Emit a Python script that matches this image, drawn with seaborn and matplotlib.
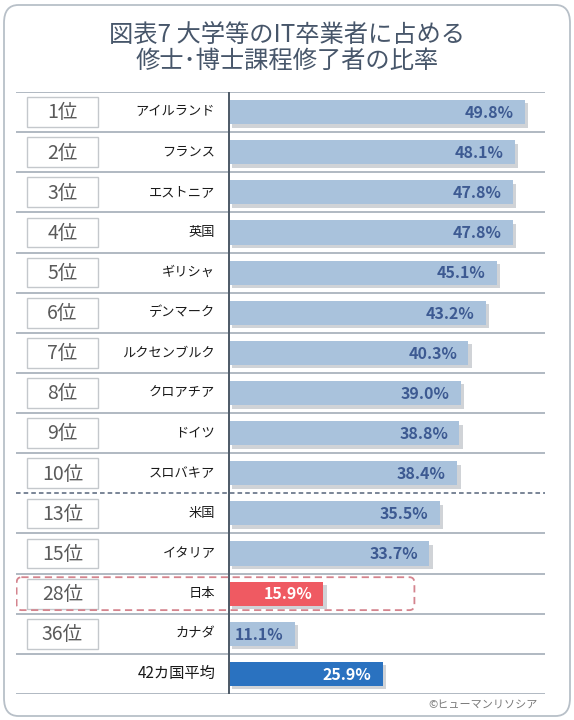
import numpy as np
import pandas as pd
import matplotlib
matplotlib.use("Agg")
import matplotlib.pyplot as plt
import matplotlib.patheffects as pe
from matplotlib.patches import FancyBboxPatch, Rectangle
import seaborn as sns

# --- データ ---
ranks = ["1位", "2位", "3位", "4位", "5位", "6位", "7位", "8位", "9位", "10位",
         "13位", "15位", "28位", "36位", ""]
countries = ["アイルランド", "フランス", "エストニア", "英国", "ギリシャ", "デンマーク",
             "ルクセンブルク", "クロアチア", "ドイツ", "スロバキア",
             "米国", "イタリア", "日本", "カナダ", "42カ国平均"]
values = [49.8, 48.1, 47.8, 47.8, 45.1, 43.2, 40.3, 39.0, 38.8, 38.4,
          35.5, 33.7, 15.9, 11.1, 25.9]

TITLE = "図表7 大学等のIT卒業者に占める\n修士･博士課程修了者の比率"
CREDIT = "©ヒューマンリソシア"

# --- 見た目 ---
sns.set_theme(style="white")
plt.rcParams["font.family"] = ["Noto Sans CJK JP", "DejaVu Sans"]

C_BAR = "#a9c2dc"
C_JP = "#ef5a62"
C_AVG = "#2a72c0"
C_VAL = "#3d5a92"
C_LINE = "#a3adb8"
C_AXIS = "#4d5966"

bar_colors = []
for c in countries:
    if c == "日本":
        bar_colors.append(C_JP)
    elif c == "42カ国平均":
        bar_colors.append(C_AVG)
    else:
        bar_colors.append(C_BAR)

df = pd.DataFrame({"country": countries, "value": values, "rank": ranks})

W, H = 574, 720
fig = plt.figure(figsize=(W / 100, H / 100), dpi=100)

# 外枠（角丸）
frame = FancyBboxPatch((4 / W, 4 / H), 566 / W, 711 / H,
                       boxstyle="round,pad=0,rounding_size=0.025",
                       transform=fig.transFigure, facecolor="white",
                       edgecolor="#b8c0c8", linewidth=1.3, zorder=-10)
fig.patches.append(frame)

fig.text(287 / W, 1 - 48 / H, TITLE, ha="center", va="center",
         fontsize=17.5, color="#47566a", linespacing=1.05)

# 表部分: x=16..545px, 0% at 229px, 5.94px/%
px_per = 5.94
x_left = -(229 - 16) / px_per
x_right = (545 - 229) / px_per
top_px, bot_px = 92, 694
ax = fig.add_axes([16 / W, 1 - bot_px / H, 529 / W, (bot_px - top_px) / H])
ax.set_facecolor("none")
ax.set_zorder(1)

sns.barplot(data=df, x="value", y="country", orient="h", hue="country",
            palette=bar_colors, legend=False, width=0.6, ax=ax,
            saturation=1, zorder=3)

# 影付きの棒
for p in ax.patches:
    p.set_path_effects([pe.SimplePatchShadow(offset=(2.5, -2.5),
                                             shadow_rgbFace="#8a939c", alpha=0.4),
                        pe.Normal()])
    p.set_linewidth(0)

n = len(countries)
ax.set_xlim(x_left, x_right)
ax.set_ylim(n - 0.5, -0.5)
ax.axis("off")

# 行の罫線
for k in range(n + 1):
    yb = k - 0.5
    if k == 10:
        ax.plot([x_left, x_right], [yb, yb], color="#56657a", lw=1.1,
                ls=(0, (3, 2)), zorder=2)
    else:
        ax.plot([x_left, x_right], [yb, yb], color=C_LINE, lw=1.2, zorder=2)
ax.plot([0, 0], [-0.5, n - 0.5], color=C_AXIS, lw=1.4, zorder=4)

# 順位ボックス・国名・数値
box_l = (27 - 229) / px_per
box_r = (98 - 229) / px_per
for i, (r, c, v, col) in enumerate(zip(ranks, countries, values, bar_colors)):
    if r:
        ax.add_patch(Rectangle((box_l, i - 0.37), box_r - box_l, 0.74,
                               facecolor="white", edgecolor="#c4c8cc",
                               lw=1.0, zorder=3))
        ax.text((box_l + box_r) / 2, i + 0.02, r, ha="center", va="center",
                fontsize=14, color="#5a5a5a", zorder=4)
    fs = 11 if c == "42カ国平均" else 9.5
    ax.text(-2.3, i, c, ha="right", va="center", fontsize=fs,
            color="#1a1a1a", zorder=4)
    tcol = C_VAL if col == C_BAR else "white"
    ax.text(v - 1.9, i + 0.02, f"{v}%", ha="right", va="center",
            fontsize=11.5, fontweight="bold", color=tcol, zorder=5)

# 日本の行を囲む点線枠
jp = countries.index("日本")
jp_box = FancyBboxPatch((x_left + 0.1, jp - 0.41), (415 - 16) / px_per - 0.2, 0.82,
                        boxstyle="round,pad=0,rounding_size=0.8",
                        facecolor="none", edgecolor="#d4848e", lw=1.3,
                        ls=(0, (4, 2.5)), zorder=6, mutation_aspect=0.18)
ax.add_patch(jp_box)

fig.text(538 / W, 1 - 706 / H, CREDIT, ha="right", va="center",
         fontsize=8, color="#7a7a7a")

fig.savefig("out.png", dpi=100)
